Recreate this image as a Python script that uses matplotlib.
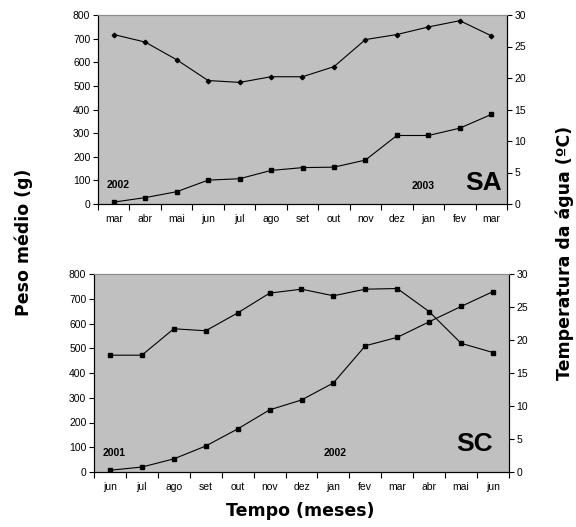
import matplotlib
matplotlib.use("Agg")
import matplotlib.pyplot as plt
import numpy as np

months_sa = ["mar", "abr", "mai", "jun", "jul", "ago", "set", "out", "nov", "dez", "jan", "fev", "mar"]
peso_sa = [8, 27, 52, 101, 107, 142, 154, 156, 186, 290, 290, 321, 379]
temp_sa = [26.9, 25.7, 22.9, 19.6, 19.3, 20.2, 20.2, 21.8, 26.1, 26.9, 28.1, 29.1, 26.7]

months_sc = ["jun", "jul", "ago", "set", "out", "nov", "dez", "jan", "fev", "mar", "abr", "mai", "jun"]
peso_sc = [7, 20, 53, 105, 174, 251, 291, 360, 510, 544, 607, 669, 729]
temp_sc = [17.7, 17.7, 21.7, 21.4, 24.1, 27.1, 27.7, 26.7, 27.7, 27.8, 24.3, 19.5, 18.1]

W, H = 576, 527
fig = plt.figure(figsize=(W / 100, H / 100), dpi=100)
fig.patch.set_facecolor("white")

tick_font = dict(family="Liberation Sans", size=7.5)
bg = "#C0C0C0"


def make_panel(rect, months, peso, temp, temp_marker, temp_ms, years, tag, tagpos):
    ax = fig.add_axes(rect)
    ax.set_facecolor(bg)
    x = np.arange(len(months))
    ax.set_xlim(-0.5, len(months) - 0.5)
    ax.set_ylim(0, 800)
    ax.set_yticks(np.arange(0, 801, 100))
    ax.set_xticks(np.arange(-0.5, len(months), 1.0))
    ax.set_xticklabels([])
    ax.set_xticks(x, minor=True)
    ax.set_xticklabels(months, minor=True, **tick_font)
    ax.tick_params(axis="x", which="major", direction="out", length=4, width=0.8, color="black")
    ax.tick_params(axis="x", which="minor", length=0, pad=7.5)
    ax.tick_params(axis="y", direction="out", length=3.5, width=0.8, pad=2)
    for lab in ax.get_yticklabels():
        lab.set_fontfamily("Liberation Sans")
        lab.set_fontsize(7.5)
    ax.plot(x, peso, color="black", lw=0.8, marker="s", ms=3.3, mfc="black", mec="black", zorder=3)

    ax2 = ax.twinx()
    ax2.set_ylim(0, 30)
    ax2.set_yticks(np.arange(0, 31, 5))
    ax2.tick_params(axis="y", direction="out", length=3.5, width=0.8, pad=2)
    for lab in ax2.get_yticklabels():
        lab.set_fontfamily("Liberation Sans")
        lab.set_fontsize(7.5)
    ax2.plot(x, temp, color="black", lw=0.8, marker=temp_marker, ms=temp_ms, mfc="black", mec="black", zorder=3)

    for a in (ax, ax2):
        a.spines["top"].set_color("#8C8C8C")
        a.spines["top"].set_linewidth(0.8)
        for s in ("left", "right", "bottom"):
            a.spines[s].set_color("black")
            a.spines[s].set_linewidth(0.8)

    for (txt, xf, yf) in years:
        ax.text(xf, yf, txt, transform=ax.transAxes, ha="center", va="center",
                fontfamily="Liberation Sans", fontweight="bold", fontsize=7.5, zorder=5)
    ax.text(tagpos[0], tagpos[1], tag, transform=ax.transAxes, ha="center", va="center",
            fontfamily="Liberation Sans", fontweight="bold", fontsize=19, zorder=5)
    return ax, ax2


make_panel([98 / W, 1 - 204 / H, 409 / W, 189 / H], months_sa, peso_sa, temp_sa, "D", 2.3,
           [("2002", 0.049, 0.10), ("2003", 0.795, 0.095)], "SA", (0.942, 0.112))
make_panel([94 / W, 1 - 472 / H, 415 / W, 198 / H], months_sc, peso_sc, temp_sc, "s", 3.3,
           [("2001", 0.048, 0.098), ("2002", 0.58, 0.096)], "SC", (0.918, 0.14))

lab_font = dict(family="DejaVu Sans", weight="bold", size=12.5)
fig.text(24 / W, 1 - 242 / H, "Peso médio (g)", rotation=90, ha="center", va="center", **lab_font)
fig.text(565 / W, 1 - 253 / H, "Temperatura da água (ºC)", rotation=90, ha="center", va="center", **lab_font)
fig.text(300 / W, 1 - 511 / H, "Tempo (meses)", ha="center", va="center", **lab_font)

fig.savefig("out.png", dpi=100)
